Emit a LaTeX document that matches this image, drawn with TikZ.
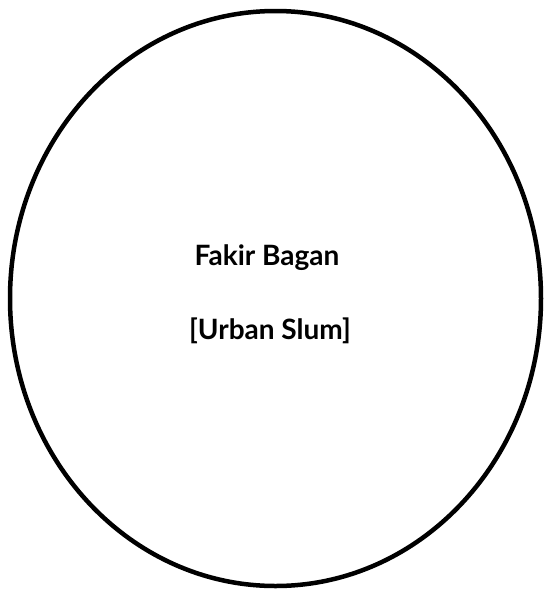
\documentclass[tikz,border=0pt]{standalone}
\usepackage{fontspec}
\usetikzlibrary{shapes.geometric}
\setmainfont{Lato}
\begin{document}
\begin{tikzpicture}[x=1pt,y=-1pt,
  lbl/.style={font=\bfseries\fontsize{28}{32}\selectfont, text=black, inner sep=0pt}]
\useasboundingbox (0,0) rectangle (546,590);
\node[draw=black, line width=4.5pt, ellipse, minimum width=531pt, minimum height=575pt, inner sep=0pt] (slum) at (275.5,298.5) {};
\node[lbl] (name) at (267,258) {Fakir Bagan};
\node[lbl] (type) at (270,331) {[Urban Slum]};
\end{tikzpicture}
\end{document}
